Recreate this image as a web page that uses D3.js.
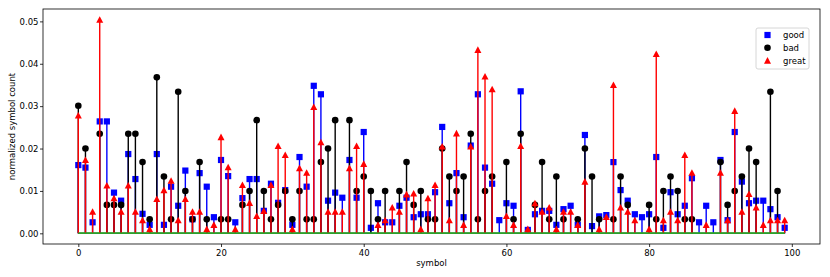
<!DOCTYPE html>
<meta charset="utf-8">
<style>
    body { margin: 0; background: #fff; }
    text { font-family: "DejaVu Sans", sans-serif; font-size: 8.5px; fill: #000; }
    .axis path, .axis line { stroke: #000; stroke-width: 0.8; }
</style>
<svg width="830" height="277"></svg>
<script src="https://d3js.org/d3.v7.min.js"></script>
<script>

    // normalized symbol counts, index = symbol 0..99 (null = symbol not present)
    var good = [
        0.0161, 0.0155, 0.0026, 0.0264, 0.0264, 0.0096, 0.0077, 0.0187, 0.0128, 0.0046,
        0.0020, 0.0187, 0.0020, 0.0110, 0.0065, 0.0148, 0.0033, 0.0142, 0.0110, 0.0038,
        0.0173, 0.0135, 0.0026, 0.0083, 0.0128, 0.0128, 0.0053, 0.0117, 0.0072, 0.0102,
        0.0020, 0.0180, 0.0110, 0.0348, 0.0328, 0.0077, 0.0096, 0.0084, 0.0173, 0.0084,
        0.0239, 0.0013, 0.0071, 0.0026, 0.0026, 0.0065, 0.0084, 0.0038, 0.0045, 0.0045,
        0.0097, 0.0251, 0.0071, 0.0142, 0.0038, 0.0207, 0.0328, 0.0155, 0.0117, 0.0031,
        0.0071, 0.0065, 0.0335, 0.0008, 0.0045, 0.0053, 0.0053, 0.0020, 0.0057, 0.0065,
        0.0020, 0.0232, 0.0017, 0.0040, 0.0043, 0.0168, 0.0102, 0.0077, 0.0045, 0.0038,
        0.0045, 0.0180, 0.0013, 0.0097, 0.0045, 0.0065, 0.0130, 0.0026, 0.0065, 0.0026,
        0.0173, 0.0031, 0.0239, 0.0122, 0.0071, 0.0077, 0.0077, 0.0057, 0.0038, 0.0013
    ];
    var bad = [
        0.0301, 0.0200, null, 0.0235, 0.0067, 0.0067, 0.0067, 0.0235, 0.0235, 0.0168,
        0.0033, 0.0368, 0.0134, 0.0033, 0.0334, 0.0100, 0.0033, 0.0168, 0.0033, null,
        0.0033, 0.0033, null, 0.0067, 0.0100, 0.0267, 0.0100, 0.0033, 0.0067, 0.0100,
        0.0033, 0.0100, 0.0033, 0.0033, 0.0168, 0.0200, 0.0267, null, 0.0267, 0.0100,
        0.0134, 0.0100, 0.0033, 0.0100, null, 0.0100, 0.0168, 0.0067, 0.0100, 0.0033,
        0.0033, 0.0200, 0.0134, 0.0100, 0.0134, 0.0235, 0.0033, 0.0100, 0.0134, null,
        0.0168, 0.0033, 0.0235, null, 0.0067, 0.0168, 0.0033, 0.0134, 0.0033, null,
        0.0033, 0.0200, 0.0134, 0.0033, null, 0.0033, 0.0134, 0.0067, null, null,
        0.0067, 0.0033, 0.0100, 0.0134, 0.0100, 0.0033, 0.0033, null, null, null,
        0.0168, 0.0067, 0.0100, 0.0134, 0.0200, 0.0168, null, 0.0334, 0.0100, null
    ];
    var great = [
        0.0278, 0.0173, 0.0051, 0.0504, 0.0113, 0.0083, 0.0051, 0.0113, 0.0051, 0.0031,
        0.0010, 0.0081, 0.0102, 0.0124, 0.0031, 0.0081, 0.0051, 0.0051, 0.0010, 0.0020,
        0.0227, 0.0156, 0.0010, 0.0114, 0.0072, 0.0041, 0.0053, 0.0114, 0.0206, 0.0185,
        0.0010, 0.0154, 0.0143, 0.0298, 0.0215, 0.0051, 0.0051, 0.0051, 0.0154, 0.0206,
        0.0164, null, 0.0020, 0.0031, 0.0061, 0.0051, 0.0092, 0.0094, 0.0010, 0.0083,
        0.0114, 0.0205, 0.0031, 0.0236, 0.0020, 0.0205, 0.0433, 0.0370, 0.0340, null,
        0.0041, 0.0020, 0.0206, 0.0010, 0.0071, 0.0051, 0.0061, 0.0010, 0.0051, 0.0051,
        0.0020, 0.0122, null, 0.0010, 0.0039, 0.0350, 0.0061, 0.0051, 0.0031, null,
        0.0010, 0.0423, 0.0031, 0.0051, 0.0031, 0.0185, 0.0143, null, 0.0020, null,
        0.0143, 0.0031, 0.0289, 0.0051, 0.0093, 0.0061, 0.0020, 0.0031, 0.0031, 0.0031
    ];
    var seriesNames = ["good", "bad", "great"];
    var xTicks = [0, 20, 40, 60, 80, 100];
    var yTicks = [0, 0.01, 0.02, 0.03, 0.04, 0.05];

    var svg = d3.select("svg"),
        margin = {top: 9, right: 10, bottom: 33, left: 43},
        width = +svg.attr("width") - margin.left - margin.right,
        height = +svg.attr("height") - margin.top - margin.bottom;

    var n = good.length,
        ymax = d3.max([d3.max(good), d3.max(bad), d3.max(great)]);

    // matplotlib-like 5% margins
    var x = d3.scaleLinear().domain([-0.05 * (n - 1), (n - 1) * 1.05]).range([0, width]),
        y = d3.scaleLinear().domain([-0.05 * ymax, 1.05 * ymax]).range([height, 0]);

    var g = svg.append("g")
        .attr("transform", "translate(" + margin.left + "," + margin.top + ")");

    var series = [
        {name: seriesNames[0], values: good, color: "#0000ff", shape: "square"},
        {name: seriesNames[1], values: bad, color: "#000000", shape: "circle"},
        {name: seriesNames[2], values: great, color: "#ff0000", shape: "triangle"}
    ];

    function marker(sel, shape, color) {
        if (shape === "circle") {
            sel.append("circle").attr("r", 3.3).attr("fill", color);
        } else if (shape === "square") {
            sel.append("rect").attr("x", -3.1).attr("y", -3.1)
                .attr("width", 6.2).attr("height", 6.2).attr("fill", color);
        } else {
            sel.append("path").attr("d", "M0,-3.5L3.5,3.1L-3.5,3.1Z").attr("fill", color);
        }
    }

    series.forEach(function(s) {
        var pts = s.values
            .map(function(v, i) { return {i: i, v: v}; })
            .filter(function(d) { return d.v != null; });
        var sg = g.append("g");
        sg.selectAll("line")
            .data(pts)
            .enter().append("line")
            .attr("x1", function(d) { return x(d.i); })
            .attr("x2", function(d) { return x(d.i); })
            .attr("y1", y(0))
            .attr("y2", function(d) { return y(d.v); })
            .attr("stroke", s.color)
            .attr("stroke-width", 1.4);
        sg.selectAll("g.m")
            .data(pts)
            .enter().append("g")
            .attr("class", "m")
            .attr("transform", function(d) { return "translate(" + x(d.i) + "," + y(d.v) + ")"; })
            .each(function() { marker(d3.select(this), s.shape, s.color); });
        // baseline
        g.append("line")
            .attr("x1", x(0)).attr("x2", x(n - 1))
            .attr("y1", y(0)).attr("y2", y(0))
            .attr("stroke", "#2ca02c")
            .attr("stroke-width", 1.4);
    });

    g.append("g")
        .attr("class", "axis")
        .attr("transform", "translate(0," + height + ")")
        .call(d3.axisBottom(x).tickValues(xTicks).tickFormat(d3.format("d")).tickSizeInner(3).tickSizeOuter(0).tickPadding(2.5));

    g.append("g")
        .attr("class", "axis")
        .call(d3.axisLeft(y).tickValues(yTicks).tickFormat(d3.format(".2f")).tickSizeInner(3).tickSizeOuter(0).tickPadding(1.5));

    g.selectAll(".axis text").style("font-family", "DejaVu Sans").style("font-size", "8.5px");
    g.selectAll(".axis .domain").remove();

    // frame
    g.append("rect")
        .attr("width", width).attr("height", height)
        .attr("fill", "none").attr("stroke", "#000").attr("stroke-width", 0.8);

    svg.append("text")
        .attr("x", margin.left + width / 2)
        .attr("y", 266)
        .attr("text-anchor", "middle")
        .text("symbol");

    svg.append("text")
        .attr("transform", "translate(15," + (margin.top + height / 2) + ") rotate(-90)")
        .attr("text-anchor", "middle")
        .text("normalized symbol count");

    // legend
    var lg = svg.append("g").attr("transform", "translate(756,28)");
    lg.append("rect")
        .attr("width", 53).attr("height", 41).attr("rx", 2)
        .attr("fill", "#fff").attr("fill-opacity", 0.8)
        .attr("stroke", "#ccc").attr("stroke-width", 0.8);
    series.forEach(function(s, i) {
        var row = lg.append("g").attr("transform", "translate(0," + (7 + i * 12.8) + ")");
        marker(row.append("g").attr("transform", "translate(11.5,0)"), s.shape, s.color);
        row.append("text").attr("x", 27).attr("y", 3).text(s.name);
    });
</script>
